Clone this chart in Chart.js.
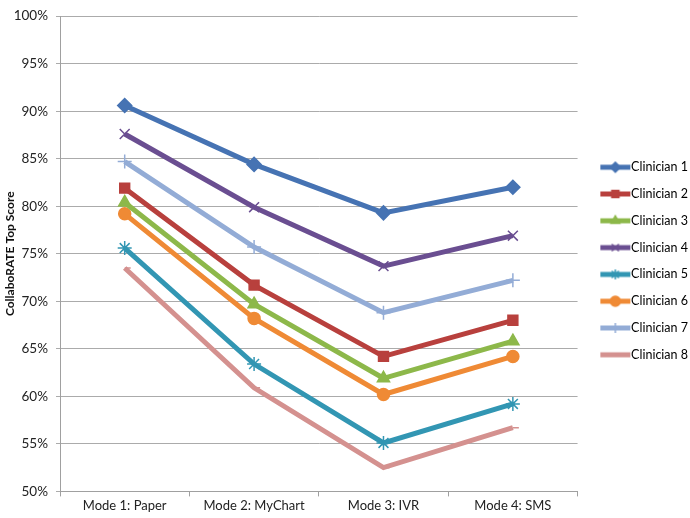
<!DOCTYPE html>
<html>
<head>
<meta charset="utf-8">
<script src="https://cdn.jsdelivr.net/npm/chart.js@4"></script>
<style>
  html, body { margin: 0; padding: 0; background: #fff; }
  #wrap { width: 690px; height: 518px; }
</style>
</head>
<body>
<div id="wrap"><canvas id="chart"></canvas></div>
<script>
// categories and series (percent)
const modes = ['Mode 1: Paper', 'Mode 2: MyChart', 'Mode 3: IVR', 'Mode 4: SMS'];
const clinician1 = [90.6, 84.4, 79.3, 82.0];
const clinician2 = [81.9, 71.7, 64.2, 68.0];
const clinician3 = [80.4, 69.7, 61.9, 65.8];
const clinician4 = [87.6, 79.9, 73.7, 76.9];
const clinician5 = [75.6, 63.4, 55.1, 59.2];
const clinician6 = [79.2, 68.2, 60.2, 64.2];
const clinician7 = [84.7, 75.7, 68.8, 72.2];
const clinician8 = [73.5, 60.9, 52.5, 56.7];
const yTicks = [50, 55, 60, 65, 70, 75, 80, 85, 90, 95, 100];

const series = [
    { label: 'Clinician 1', data: clinician1, color: '#4673b3', style: 'rectRot', r: 7 },
    { label: 'Clinician 2', data: clinician2, color: '#b8403d', style: 'rect', r: 7 },
    { label: 'Clinician 3', data: clinician3, color: '#8db84a', style: 'triangle', r: 7 },
    { label: 'Clinician 4', data: clinician4, color: '#6a4e91', style: 'crossRot', r: 7 },
    { label: 'Clinician 5', data: clinician5, color: '#3296b3', style: 'star', r: 7 },
    { label: 'Clinician 6', data: clinician6, color: '#ef8a35', style: 'circle', r: 6 },
    { label: 'Clinician 7', data: clinician7, color: '#93acd6', style: 'cross', r: 7 },
    { label: 'Clinician 8', data: clinician8, color: '#d4918f', style: 'dash', r: 6 }
];

const fontSize = 13;
const legendFont = 12.5;
const legendBox = 33;   // width reserved for the legend sample

// legend sample: a short thick line with the marker in the middle,
// placed so that it ends right where the label text begins
function legendIcon(s) {
    const w = Math.round(legendBox + legendFont); // canvas is centred on the box, reaches the text
    const c = document.createElement('canvas');
    c.width = w; c.height = 14;
    const g = c.getContext('2d');
    g.strokeStyle = s.color;
    g.lineWidth = 5;
    g.beginPath(); g.moveTo(w - 31, 7); g.lineTo(w - 1, 7); g.stroke();
    g.fillStyle = s.color;
    g.lineWidth = 1.5;
    Chart.helpers.drawPoint(g, { pointStyle: s.style, radius: 5, rotation: 0, borderWidth: 1.5 }, w - 16, 7);
    return c;
}

const ctx = document.getElementById('chart').getContext('2d');
const chart = new Chart(ctx, {
    type: 'line',
    data: {
        labels: modes,
        datasets: series.map(s => ({
            label: s.label,
            data: s.data,
            borderColor: s.color,
            backgroundColor: s.color,
            borderWidth: 5,
            pointStyle: s.style,
            pointRadius: s.r,
            pointBorderWidth: 1.5,
            pointBorderColor: s.color,
            pointBackgroundColor: s.color,
            tension: 0
        }))
    },
    options: {
        responsive: true,
        maintainAspectRatio: false,
        animation: false,
        layout: { padding: { top: 6, right: -8, left: 3, bottom: 2 } },
        scales: {
            x: {
                offset: true,
                grid: { display: true, drawOnChartArea: false, color: '#a0a0a0', tickLength: 5, offset: true },
                border: { color: '#a0a0a0' },
                ticks: { color: '#222', font: { family: 'Lato', size: fontSize }, padding: 2 }
            },
            y: {
                min: 50,
                max: 100,
                afterBuildTicks: axis => { axis.ticks = yTicks.map(v => ({ value: v })); },
                afterFit: axis => { axis.width = 57; },
                grid: { color: '#ababab', tickLength: 4 },
                border: { color: '#a0a0a0' },
                ticks: {
                    color: '#222',
                    font: { family: 'Lato', size: 13.5 },
                    padding: 8,
                    callback: v => v + '%'
                },
                title: {
                    display: true,
                    text: 'CollaboRATE Top Score',
                    color: '#111',
                    font: { family: 'Lato', size: 12, weight: 'bold' },
                    padding: { top: 0, bottom: 0 }
                }
            }
        },
        plugins: {
            legend: {
                position: 'right',
                labels: {
                    usePointStyle: true,
                    pointStyleWidth: legendBox,
                    color: '#111',
                    font: { family: 'Lato', size: legendFont },
                    padding: 14.3,
                    generateLabels: c => series.map((s, i) => ({
                        text: s.label,
                        pointStyle: legendIcon(s),
                        fillStyle: s.color,
                        strokeStyle: s.color,
                        lineWidth: 0,
                        hidden: false,
                        datasetIndex: i
                    }))
                }
            },
            tooltip: { enabled: false }
        }
    }
});
</script>
</body>
</html>
